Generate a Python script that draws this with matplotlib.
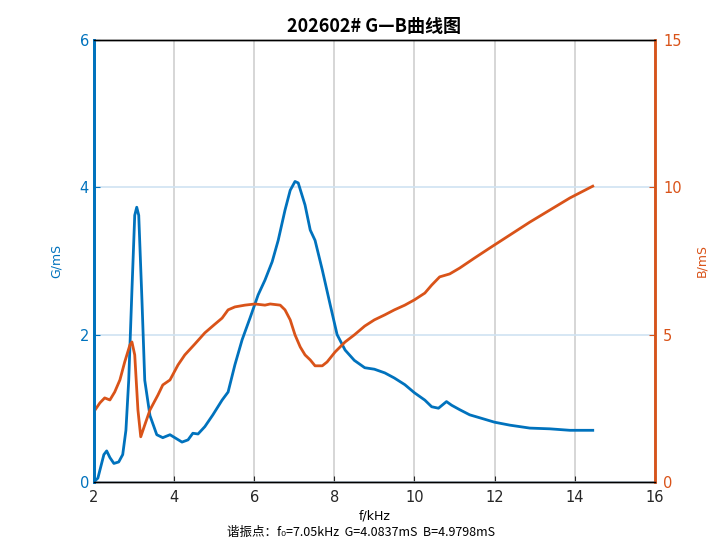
import matplotlib
matplotlib.use("Agg")
import matplotlib.pyplot as plt

plt.rcParams['font.family'] = ['DejaVu Sans', 'Noto Sans CJK SC']

g_f = [2.0,2.1,2.25,2.32,2.4,2.5,2.62,2.72,2.8,2.87,2.95,3.02,3.07,3.12,3.2,3.27,3.4,3.57,3.72,3.9,4.02,4.2,4.35,4.47,4.6,4.77,4.97,5.2,5.35,5.52,5.7,5.9,6.1,6.27,6.45,6.6,6.77,6.9,7.02,7.1,7.27,7.4,7.52,7.7,7.9,8.07,8.27,8.5,8.76,9.0,9.26,9.5,9.76,10.0,10.26,10.43,10.6,10.8,10.93,11.13,11.38,11.63,12.0,12.38,12.88,13.38,13.88,14.45]
g_val = [0.0,0.05,0.37,0.42,0.33,0.25,0.27,0.37,0.7,1.38,2.6,3.62,3.73,3.62,2.47,1.38,0.9,0.64,0.6,0.64,0.6,0.54,0.57,0.66,0.65,0.75,0.91,1.11,1.22,1.59,1.93,2.23,2.54,2.74,2.99,3.28,3.69,3.96,4.08,4.06,3.76,3.42,3.28,2.88,2.4,2.0,1.79,1.65,1.55,1.53,1.48,1.41,1.32,1.21,1.11,1.02,1.0,1.09,1.04,0.98,0.91,0.87,0.81,0.77,0.73,0.72,0.7,0.7]
b_f = [2.0,2.15,2.27,2.4,2.52,2.65,2.77,2.9,2.95,3.02,3.1,3.17,3.27,3.4,3.6,3.72,3.9,4.1,4.27,4.52,4.77,5.0,5.2,5.35,5.52,5.77,6.02,6.27,6.4,6.65,6.77,6.9,7.02,7.15,7.27,7.4,7.52,7.7,7.82,8.02,8.27,8.5,8.76,9.0,9.26,9.5,9.76,10.0,10.26,10.43,10.63,10.88,11.13,11.5,11.88,12.38,12.88,13.38,13.88,14.45]
b_val = [2.38,2.68,2.85,2.78,3.05,3.46,4.07,4.65,4.75,4.31,2.44,1.53,1.93,2.44,2.95,3.29,3.46,3.97,4.31,4.68,5.06,5.33,5.56,5.84,5.94,6.0,6.04,6.0,6.04,6.0,5.84,5.5,4.99,4.58,4.31,4.14,3.94,3.94,4.07,4.41,4.75,4.99,5.29,5.5,5.67,5.84,6.0,6.18,6.41,6.68,6.96,7.06,7.26,7.6,7.94,8.38,8.82,9.23,9.64,10.04]

blue = '#0072BD'
orange = '#D95319'
cjk = ['Noto Sans CJK SC', 'DejaVu Sans']

fig = plt.figure(figsize=(7.22, 5.42), dpi=100)
ax = fig.add_axes([0.130, 0.111, 0.777, 0.815])
ax2 = ax.twinx()

ax.plot(g_f, g_val, color=blue, lw=2)
ax2.plot(b_f, b_val, color=orange, lw=2)

ax.set_xlim(2, 16)
ax.set_ylim(0, 6)
ax2.set_ylim(0, 15)
ax.set_xticks([2, 4, 6, 8, 10, 12, 14, 16])
ax.set_yticks([0, 2, 4, 6])
ax2.set_yticks([0, 5, 10, 15])
ax.xaxis.grid(True, color='#d0d0d0', lw=1.2)
ax.yaxis.grid(True, color='#cfe3f2', lw=1.2)
ax.set_axisbelow(True)

for a in (ax, ax2):
    a.tick_params(direction='in', length=4, labelsize=10.5)
    for s in a.spines.values():
        s.set_linewidth(1.0)
ax.tick_params(axis='x', pad=6)
ax.spines['left'].set_color(blue)
ax.spines['left'].set_linewidth(2)
ax2.spines['left'].set_color(blue)
ax2.spines['left'].set_linewidth(2)
ax2.spines['right'].set_color(orange)
ax2.spines['right'].set_linewidth(2)
ax.tick_params(axis='y', colors=blue)
ax2.tick_params(axis='y', colors=orange, pad=6)
ax.tick_params(axis='x', colors='#262626')

ax.set_ylabel('G/mS', color=blue, fontsize=9, labelpad=12)
ax2.set_ylabel('B/mS', color=orange, fontsize=9, labelpad=10)
ax.set_xlabel('f/kHz', fontsize=9, labelpad=3)
ax.set_title('202602# G—B曲线图', fontsize=13, fontweight='bold', pad=6, family=cjk)
fig.text(0.5, 0.012, '谐振点：f₀=7.05kHz  G=4.0837mS  B=4.9798mS', ha='center', fontsize=9, family=cjk)

fig.savefig('out.png', dpi=100)
